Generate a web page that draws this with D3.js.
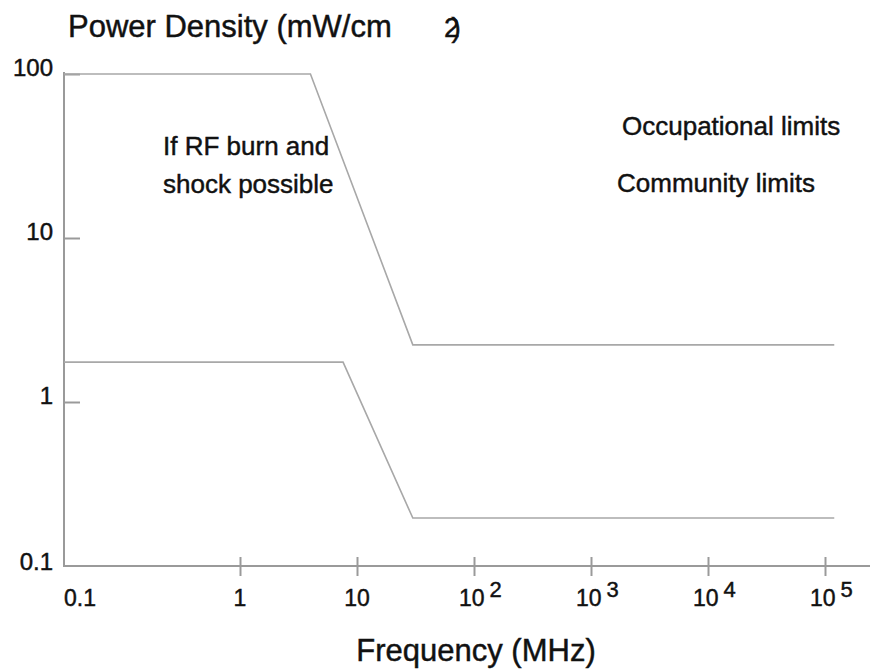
<!DOCTYPE html>
<html>
<head>
  <meta charset="utf8" />
  <style>
    body {
      margin: 0;
      background: #fff;
    }
    text {
      font-family: "Liberation Sans", Arial, sans-serif;
      fill: #111;
      stroke: #111;
      stroke-width: 0.45;
    }
    .axis path, .axis line {
      stroke: #9a9a9a;
      stroke-width: 2;
    }
    .limit {
      fill: none;
      stroke: #a8a8a8;
      stroke-width: 1.6;
    }
  </style>
</head>
<body>
  <script src="https://d3js.org/d3.v7.min.js"></script>
  <script>
    var width = 870,
        height = 671;

    // frequency (MHz) / power density (mW/cm2)
    var xTicks = [0.1, 1, 10, 1e2, 1e3, 1e4, 1e5];
    var yTicks = [0.1, 1, 10, 100];
    var occupationalFreq = [0.1, 4, 30, 1.2e5];
    var occupationalPower = [100, 100, 2.23, 2.23];
    var communityFreq = [0.1, 7.6, 30, 1.2e5];
    var communityPower = [1.75, 1.75, 0.196, 0.196];

    var labels = [
      {text: "If RF burn and", x: 163, y: 155},
      {text: "shock possible", x: 163, y: 193},
      {text: "Occupational limits", x: 622, y: 135},
      {text: "Community limits", x: 617, y: 192}
    ];

    // the source plot stretches the first decade, so the scale is piecewise
    var x = d3.scaleLog().domain([0.1, 1, 1e5]).range([64, 240, 825]);
    var y = d3.scaleLog().domain([0.1, 100]).range([566, 74]);

    var svg = d3.select("body").append("svg")
        .attr("width", width)
        .attr("height", height);

    // x axis
    var xAxis = svg.append("g")
        .attr("class", "axis")
        .attr("transform", "translate(0," + y(0.1) + ")")
        .call(d3.axisBottom(x).tickValues(xTicks.slice(1)).tickSize(10).tickSizeOuter(0).tickFormat(""));
    xAxis.select(".domain").remove();
    xAxis.selectAll(".tick line").attr("y1", -9);
    xAxis.append("line")
        .attr("x1", x(0.1)).attr("x2", width)
        .attr("y1", 0).attr("y2", 0);

    var xLabels = svg.append("g").attr("font-size", 23);
    xTicks.forEach(function(d) {
      var e = Math.round(Math.log10(d));
      var t = xLabels.append("text").attr("y", 606);
      if (e < 0) {
        t.attr("x", x(d)).text("0.1");
      } else if (e < 2) {
        t.attr("x", x(d)).attr("text-anchor", "middle").text(d);
      } else {
        t.attr("x", x(d) - 15).text("10");
        t.append("tspan").attr("dx", 5).attr("dy", -9).attr("font-size", 22).text(e);
      }
    });

    // y axis
    var yAxis = svg.append("g")
        .attr("class", "axis")
        .attr("transform", "translate(" + x(0.1) + ",0)")
        .call(d3.axisLeft(y).tickValues(yTicks.slice(1)).tickSizeInner(-16).tickSizeOuter(0).tickFormat(""));
    yAxis.select(".domain").remove();
    yAxis.append("line")
        .attr("x1", 0).attr("x2", 0)
        .attr("y1", y(100) - 2).attr("y2", y(0.1) + 1);

    svg.append("g").attr("font-size", 24)
      .selectAll("text")
      .data(yTicks)
      .join("text")
        .attr("x", 53)
        .attr("y", d => y(d) + (d === 0.1 ? 4 : 2))
        .attr("text-anchor", "end")
        .text(d => d);

    // limit curves
    var line = d3.line()
        .x(d => x(d[0]))
        .y(d => y(d[1]));

    svg.append("path")
        .attr("class", "limit")
        .attr("d", line(d3.zip(occupationalFreq, occupationalPower)));

    svg.append("path")
        .attr("class", "limit")
        .attr("d", line(d3.zip(communityFreq, communityPower)));

    // titles
    svg.append("text")
        .attr("x", 68).attr("y", 37)
        .attr("font-size", 31)
        .text("Power Density (mW/cm")
      .append("tspan")
        .attr("x", 444)
        .attr("font-size", 28)
        .text("2)")
        .attr("letter-spacing", -8);

    svg.append("text")
        .attr("x", 476).attr("y", 661)
        .attr("text-anchor", "middle")
        .attr("font-size", 31)
        .text("Frequency (MHz)");

    svg.append("g").attr("font-size", 26)
      .selectAll("text")
      .data(labels)
      .join("text")
        .attr("x", d => d.x)
        .attr("y", d => d.y)
        .text(d => d.text);
  </script>
</body>
</html>
